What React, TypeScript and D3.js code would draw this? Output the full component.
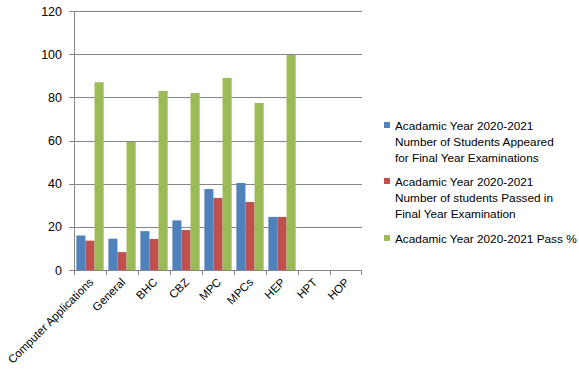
import * as d3 from 'd3';
import React from 'react';

// categories and series
const categories = ['Computer Applications', 'General', 'BHC', 'CBZ', 'MPC', 'MPCs', 'HEP', 'HPT', 'HOP'];
const appeared = [16, 14.5, 18, 23, 37.5, 40.3, 24.6, 0, 0];
const passed = [13.6, 8.3, 14.4, 18.5, 33.4, 31.5, 24.6, 0, 0];
const passPct = [87, 59.3, 83, 82, 89, 77.4, 99.6, 0, 0];
const yTicks = [0, 20, 40, 60, 80, 100, 120];

const seriesNames = [
  ['Acadamic Year 2020-2021', 'Number of Students Appeared', 'for Final Year Examinations'],
  ['Acadamic Year 2020-2021', 'Number of students Passed in', 'Final Year Examination'],
  ['Acadamic Year 2020-2021 Pass %'],
];
const colors = ['#4F81BD', '#C0504D', '#9BBB59'];

const App = () => {
  const width = 579;
  const height = 387;
  const font = 'Liberation Sans, Arial, sans-serif';

  const x = d3.scaleBand().domain(categories).range([74, 362]);
  const inner = d3.scaleBand().domain(['0', '1', '2']).range([0, x.bandwidth()]).paddingOuter(0.26);
  const y = d3.scaleLinear().domain([0, 120]).range([270, 11]);

  const series = [appeared, passed, passPct];

  return (
    <svg width={width} height={height} style={{ position: 'absolute', left: 0, top: 0 }}>
      {/* gridlines */}
      {yTicks.map((t) => (
        <g key={t}>
          <line x1={69} x2={362} y1={Math.round(y(t)) + 0.5} y2={Math.round(y(t)) + 0.5} stroke="#868686" strokeWidth={1} />
          <text x={62} y={y(t) + 4.5} textAnchor="end" fontFamily={font} fontSize={12.5} fill="#000">{t}</text>
        </g>
      ))}
      <line x1={74.5} x2={74.5} y1={y(120)} y2={270} stroke="#868686" />

      {/* bars */}
      {series.map((vals, si) =>
        vals.map((v, i) => (
          <rect
            key={si + '-' + i}
            x={(x(categories[i]) as number) + (inner(String(si)) as number)}
            y={y(v)}
            width={inner.bandwidth()}
            height={270 - y(v)}
            fill={colors[si]}
          />
        ))
      )}

      {/* x ticks */}
      {categories.map((c) => (
        <line key={c} x1={Math.round(x(c) as number) + 0.5} x2={Math.round(x(c) as number) + 0.5} y1={270} y2={275} stroke="#868686" />
      ))}
      <line x1={361.5} x2={361.5} y1={270} y2={275} stroke="#868686" />

      {/* x labels */}
      {categories.map((c) => {
        const cx = (x(c) as number) + x.bandwidth() / 2 + 4;
        const cy = 283;
        return (
          <text key={c} x={cx} y={cy} transform={`rotate(-45 ${cx} ${cy})`} textAnchor="end" fontFamily={font} fontSize={11.5} fill="#000">
            {c}
          </text>
        );
      })}

      {/* legend */}
      {seriesNames.map((lines, si) => {
        const top = [125, 181, 238][si];
        return (
          <g key={si}>
            <rect x={384} y={top - 3} width={6} height={6} fill={colors[si]} />
            {lines.map((l, li) => (
              <text key={li} x={395} y={top + 4.5 + li * 16} fontFamily={font} fontSize={11.8} fill="#000">
                {l}
              </text>
            ))}
          </g>
        );
      })}
    </svg>
  );
};

export default App;
